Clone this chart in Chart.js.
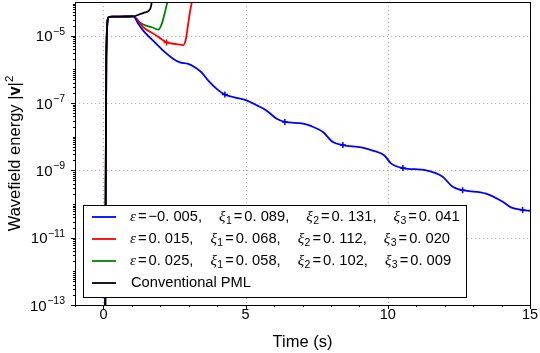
<!DOCTYPE html>
<html><head><meta charset="utf-8">
<script src="https://cdn.jsdelivr.net/npm/chart.js@4/dist/chart.umd.min.js"></script>
<style>html,body{margin:0;padding:0;background:#fff}</style>
</head><body>
<canvas id="c" width="540" height="353"></canvas>
<script>
// ---------- data ----------
const seriesLabels = ['blue', 'red', 'green', 'Conventional PML'];
const epsVals = ['\u22120. 005', '0. 015', '0. 025'];
const xi1Vals = ['0. 089', '0. 068', '0. 058'];
const xi2Vals = ['0. 131', '0. 112', '0. 102'];
const xi3Vals = ['0. 041', '0. 020', '0. 009'];

const xTicks = [0, 5, 10, 15];
const yTicks = [1e-13, 1e-11, 1e-9, 1e-7, 1e-5];
const yTickExp = ['\u221213', '\u221211', '\u22129', '\u22127', '\u22125'];

const blackT = [0.06, 0.10, 0.175, 0.3, 0.6, 1.05, 1.29, 1.46, 1.64, 1.70, 1.75];
const blackE = [1e-14, 2.24e-6, 3.5e-5, 3.7e-5, 3.7e-5, 3.72e-5, 4.37e-5, 4.9e-5, 6.17e-5, 9.8e-5, 2e-4];

const greenT = [0.06, 0.10, 0.175, 0.3, 0.6, 1.05, 1.23, 1.4, 1.7, 1.93, 2.05, 2.16, 2.26];
const greenE = [1e-14, 2.24e-6, 3.5e-5, 3.7e-5, 3.7e-5, 3.72e-5, 2.63e-5, 2.14e-5, 1.78e-5, 1.51e-5, 2.24e-5, 4.9e-5, 1.1e-4];

const redT = [0.06, 0.10, 0.175, 0.3, 0.6, 1.05, 1.4, 1.87, 2.22, 2.57, 2.81, 2.9, 2.98, 3.04, 3.12];
const redE = [1e-14, 2.24e-6, 3.5e-5, 3.7e-5, 3.7e-5, 3.72e-5, 1.78e-5, 1e-5, 6.31e-6, 5.62e-6, 5.25e-6, 7.94e-6, 2.24e-5, 4.9e-5, 1.1e-4];
const redMarkT = [2.22];

const blueT = [0.06, 0.10, 0.175, 0.3, 0.6, 1.05, 1.23, 1.4, 1.87, 2.16, 2.46, 2.69, 2.98, 3.2, 3.45, 3.68, 3.98, 4.27, 4.6, 5.03, 5.4, 5.73, 6.08, 6.38, 7.02, 7.4, 7.72, 8.07, 8.42, 9.07, 9.5, 9.87, 10.12, 10.53, 11.35, 11.93, 12.28, 12.63, 13.45, 14.04, 14.33, 14.74, 15.0];
const blueE = [1e-14, 2.24e-6, 3.5e-5, 3.7e-5, 3.7e-5, 3.72e-5, 2.24e-5, 1.41e-5, 5.62e-6, 3.24e-6, 2.04e-6, 1.62e-6, 1.45e-6, 1.17e-6, 8.13e-7, 4.68e-7, 2.63e-7, 1.78e-7, 1.48e-7, 1.2e-7, 8.51e-8, 6.03e-8, 3.47e-8, 2.75e-8, 2.45e-8, 1.91e-8, 1.38e-8, 6.92e-9, 5.62e-9, 4.79e-9, 3.8e-9, 2.82e-9, 1.58e-9, 1.17e-9, 1.0e-9, 6.46e-10, 3.24e-10, 2.57e-10, 2.04e-10, 1.17e-10, 7.94e-11, 6.61e-11, 6.31e-11];
const blueMarkT = [4.27, 6.38, 8.42, 10.53, 12.63, 14.74];

// ---------- build ----------
const zip = (t, e) => t.map((v, i) => ({x: v, y: e[i]}));
const mk = (label, t, e, color, order, marks) => ({
  label, data: zip(t, e), borderColor: color, backgroundColor: color,
  borderWidth: 1.8, order, clip: 0,
  cubicInterpolationMode: 'monotone',
  pointStyle: 'cross', pointBorderWidth: 1.5,
  pointRadius: c => (marks && marks.includes(t[c.dataIndex])) ? 3 : 0,
  pointHoverRadius: 0
});

const FONT = '"Liberation Sans", Arial, sans-serif';
const GREEK = '"Liberation Serif", "DejaVu Serif", serif';

function rich(ctx, x, y, toks) {
  for (const tk of toks) {
    ctx.font = tk.f;
    ctx.fillText(tk.t, x, y + (tk.dy || 0));
    x += ctx.measureText(tk.t).width + (tk.g || 0);
  }
  return x;
}

const deco = {
  id: 'deco',
  beforeDatasetsDraw(chart) {
    const {ctx, chartArea: a, scales: {x, y}} = chart;
    ctx.save();
    ctx.strokeStyle = '#b0b0b0'; ctx.lineWidth = 1; ctx.setLineDash([1.2, 2.8]);
    xTicks.forEach(v => { if (v > x.min && v < x.max) {
      const p = Math.round(x.getPixelForValue(v)) + 0.5;
      ctx.beginPath(); ctx.moveTo(p, a.top); ctx.lineTo(p, a.bottom); ctx.stroke(); }});
    yTicks.forEach(v => { if (v > y.min && v < y.max) {
      const p = Math.round(y.getPixelForValue(v)) + 0.5;
      ctx.beginPath(); ctx.moveTo(a.left, p); ctx.lineTo(a.right, p); ctx.stroke(); }});
    ctx.restore();
  },
  afterDraw(chart) {
    const {ctx, chartArea: a, scales: {x, y}} = chart;
    ctx.save();
    // frame
    ctx.strokeStyle = '#000'; ctx.lineWidth = 1;
    ctx.strokeRect(Math.round(a.left) + 0.5, Math.round(a.top) + 0.5, Math.round(a.right - a.left), Math.round(a.bottom - a.top));
    // x ticks
    ctx.beginPath();
    for (let v = Math.ceil(x.min); v <= x.max; v++) {
      const p = Math.round(x.getPixelForValue(v)) + 0.5;
      const len = xTicks.includes(v) ? 4 : 2;
      ctx.moveTo(p, a.bottom); ctx.lineTo(p, a.bottom + len);
    }
    // y ticks
    for (let d = -13; d <= -5; d++) {
      for (let k = 1; k <= 9; k++) {
        const v = k * Math.pow(10, d);
        if (v < y.min || v > y.max) continue;
        const p = Math.round(y.getPixelForValue(v)) + 0.5;
        const len = (k === 1 && yTicks.some(t => Math.abs(t / v - 1) < 1e-6)) ? 4 : 2;
        ctx.moveTo(a.left, p); ctx.lineTo(a.left - len, p);
      }
    }
    ctx.stroke();
    // x tick labels
    ctx.fillStyle = '#000';
    ctx.font = '14.5px ' + FONT; ctx.textAlign = 'center'; ctx.textBaseline = 'alphabetic';
    xTicks.forEach(v => ctx.fillText(String(v), x.getPixelForValue(v), 319));
    // y tick labels
    ctx.textAlign = 'left';
    yTicks.forEach((v, i) => {
      const p = y.getPixelForValue(v);
      ctx.font = '10.5px ' + FONT; const we = ctx.measureText(yTickExp[i]).width;
      ctx.font = '15px ' + FONT; const wb = ctx.measureText('10').width;
      const x0 = 65 - we - wb - 0.5;
      ctx.fillText('10', x0, p + 5.5);
      ctx.font = '10.5px ' + FONT; ctx.fillText(yTickExp[i], x0 + wb + 0.5, p - 1);
    });
    // x title
    ctx.font = '16.5px ' + FONT; ctx.textAlign = 'center';
    ctx.fillText('Time (s)', (a.left + a.right) / 2, 347);
    // y title
    ctx.save();
    ctx.translate(20, 153.5); ctx.rotate(-Math.PI / 2);
    ctx.textAlign = 'left';
    const yt = [
      {t: 'Wavefield energy |', f: '16.5px ' + FONT},
      {t: 'v', f: 'bold 16.5px ' + FONT},
      {t: '|', f: '16.5px ' + FONT},
      {t: '2', f: '11.5px ' + FONT, dy: -7}
    ];
    let tw = 0; yt.forEach(tk => { ctx.font = tk.f; tw += ctx.measureText(tk.t).width; });
    rich(ctx, -tw / 2, 0, yt);
    ctx.restore();
    // legend
    ctx.textAlign = 'left';
    const L = 83, T = 205, R = 466, B = 297;
    ctx.fillStyle = '#fff'; ctx.fillRect(L, T, R - L, B - T);
    ctx.strokeStyle = '#000'; ctx.lineWidth = 1; ctx.strokeRect(L + 0.5, T + 0.5, R - L, B - T);
    const cols = ['#0000ff', '#ff0000', '#008000', '#000000'];
    const nf = '14.7px ' + FONT, gf = 'italic 15px ' + GREEK, sf = '10.5px ' + FONT;
    ctx.textBaseline = 'middle';
    for (let r = 0; r < 4; r++) {
      const ry = 217 + r * 22;
      ctx.strokeStyle = cols[r]; ctx.lineWidth = 1.8;
      ctx.beginPath(); ctx.moveTo(92, ry); ctx.lineTo(116, ry); ctx.stroke();
      ctx.fillStyle = '#000';
      if (r === 3) { ctx.font = nf; ctx.fillText(seriesLabels[3], 131, ry); continue; }
      const xiTok = (n, val, last) => [
        {t: '\u03BE', f: gf, g: 0.5},
        {t: n, f: sf, dy: 4, g: 2},
        {t: '=', f: nf, g: 2},
        {t: val + (last ? '' : ','), f: nf, g: last ? 0 : 17}
      ];
      rich(ctx, 130, ry, [
        {t: '\u03B5', f: gf, g: 2},
        {t: '=', f: nf, g: 2},
        {t: epsVals[r] + ',', f: nf, g: 17},
        ...xiTok('1', xi1Vals[r]), ...xiTok('2', xi2Vals[r]), ...xiTok('3', xi3Vals[r], true)
      ]);
    }
    ctx.restore();
  }
};

new Chart(document.getElementById('c'), {
  type: 'line',
  data: { datasets: [
    mk(seriesLabels[3], blackT, blackE, '#000000', 0),
    mk(seriesLabels[0], blueT, blueE, '#0000ff', 1, blueMarkT),
    mk(seriesLabels[1], redT, redE, '#ff0000', 2, redMarkT),
    mk(seriesLabels[2], greenT, greenE, '#008000', 3)
  ]},
  options: {
    responsive: false, devicePixelRatio: 1, animation: false,
    layout: { padding: { left: 75, right: 10, top: 2, bottom: 48 } },
    plugins: { legend: { display: false }, tooltip: { enabled: false } },
    scales: {
      x: { type: 'linear', min: -1, max: 15, display: false },
      y: { type: 'logarithmic', min: 1e-13, max: 1e-4, display: false }
    }
  },
  plugins: [deco]
});
</script>
</body></html>
